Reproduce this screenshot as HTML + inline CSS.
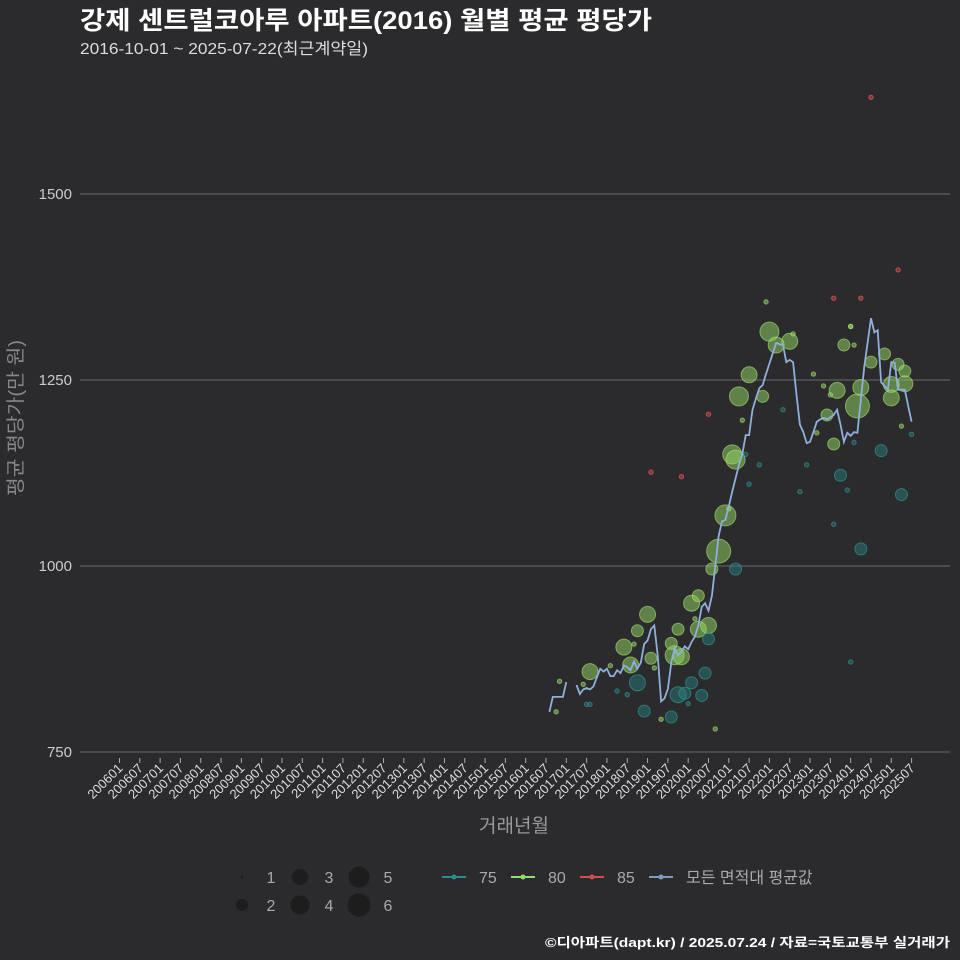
<!DOCTYPE html>
<html><head><meta charset="utf-8">
<style>
html,body{margin:0;padding:0;background:#2b2a2c;}
svg{display:block;font-family:"Liberation Sans","Noto Sans CJK KR",sans-serif;}
</style></head>
<body>
<svg id="chart" width="960" height="960" viewBox="0 0 960 960" xmlns="http://www.w3.org/2000/svg">
<rect width="960" height="960" fill="#2b2a2c"/>
<text x="80" y="29" fill="#ffffff" font-size="25" font-weight="bold" textLength="572" lengthAdjust="spacingAndGlyphs">강제 센트럴코아루 아파트(2016) 월별 평균 평당가</text>
<text x="80" y="54" fill="#dddddd" font-size="16" textLength="288" lengthAdjust="spacingAndGlyphs">2016-10-01 ~ 2025-07-22(최근계약일)</text>
<g id="grid"></g>
<g id="yaxis"></g>
<g id="xaxis"></g>
<g id="points"></g>
<g id="line"></g>
<text transform="translate(22,418) rotate(-90)" text-anchor="middle" fill="#888" font-size="19" textLength="156" lengthAdjust="spacingAndGlyphs">평균 평당가(만 원)</text>
<text x="514" y="832" text-anchor="middle" fill="#999" font-size="19">거래년월</text>
<g id="legend"></g>
<text x="950" y="947" text-anchor="end" fill="#ffffff" font-size="13" font-weight="bold" textLength="405" lengthAdjust="spacingAndGlyphs">©디아파트(dapt.kr) / 2025.07.24 / 자료=국토교통부 실거래가</text>
</svg>
<script>
// ---- data ----
const yTicks = [750, 1000, 1250, 1500];
const xTickLabels = ["200601","200607","200701","200707","200801","200807","200901","200907","201001","201007","201101","201107","201201","201207","201301","201307","201401","201407","201501","201507","201601","201607","201701","201707","201801","201807","201901","201907","202001","202007","202101","202107","202201","202207","202301","202307","202401","202407","202501","202507"];
// average line: monthly values starting 2016-08 (null = no trade)
const lineStart = "201608";
const lineValues = [804,824,824,824,824,844,null,null,840,828,834,836,834,838,850,862,858,862,852,852,860,856,866,864,860,872,862,870,895,900,915,920,880,818,822,835,870,890,880,885,892,888,898,905,920,945,950,940,960,1000,1040,1060,1062,1080,1100,1118,1136,1150,1176,1176,1210,1225,1239,1243,1258,1272,1286,1300,1298,1297,1274,1277,1274,1230,1190,1180,1165,1167,1180,1194,1197,1199,1197,1200,1203,1210,1190,1167,1179,1175,1180,1179,1223,1267,1300,1333,1314,1317,1247,1242,1237,1274,1273,1237,1237,1237,1215,1194];
// scatter: month offsets from lineStart, values, sizes (count), area
const ptMonth = [2,3,10,12,18,22,24,25,26,29,30,31,33,36,37,38,39,42,43,44,44,47,49,48,50,52,53,54,55,56,57,59,63,64,65,67,71,72,79,78,82,84,81,83,85,87,90,89,91,92,95,99,101,101,103,105,105,104,89,
 11,12,20,23,26,28,36,38,40,42,41,45,46,47,89,55,62,69,74,76,84,86,88,92,90,98,104,107,58,59,
 30,39,47,84,92,95,103];
const ptValue = [804,845,841,858,866,891,867,895,913,935,876,863,794,896,880,915,878,950,929,915,960,920,781,996,1020,1068,1077,1150,1143,1228,1196,1257,1228,1355,1315,1297,1302,1312,1179,1258,1203,1164,1242,1230,1236,1297,1297,1322,1215,1240,1274,1285,1244,1226,1271,1262,1245,1188,1322,
 814,814,832,827,843,805,797,827,829,843,815,826,856,902,871,996,1136,1210,1100,1136,1056,1122,1102,1023,1166,1155,1096,1177,1150,1110,
 1126,1120,1204,1360,1360,1630,1398];
const ptSize = [1,1,1,3,1,3,3,1,2,3,2,1,1,2,4,2,3,3,1,3,2,3,1,2,6,5,1,4,4,4,1,3,2,1,4,3,3,1,1,1,2,2,1,1,3,2,1,1,6,3,2,2,3,3,2,2,3,1,1,
 1,1,1,1,3,2,2,3,2,2,1,2,2,2,1,2,1,1,1,1,1,2,1,2,1,2,2,1,1,1,
 1,1,1,1,1,1,1];
const ptArea = [80,80,80,80,80,80,80,80,80,80,80,80,80,80,80,80,80,80,80,80,80,80,80,80,80,80,80,80,80,80,80,80,80,80,80,80,80,80,80,80,80,80,80,80,80,80,80,80,80,80,80,80,80,80,80,80,80,80,80,
 75,75,75,75,75,75,75,75,75,75,75,75,75,75,75,75,75,75,75,75,75,75,75,75,75,75,75,75,75,75,
 85,85,85,85,85,85,85];
const sizeLegend = [1,2,3,4,5,6];
const areaLegend = ["75","80","85","모든 면적대 평균값"];

// ---- scales ----
const NS = "http://www.w3.org/2000/svg";
const pxPerMonth = 3.385;
function monthIndex(yyyymm){const y=+yyyymm.slice(0,4), m=+yyyymm.slice(4,6);return (y-2006)*12+(m-1);}
function xScale(mi){return 119.5 + mi*pxPerMonth;}
function yScale(v){return 752 - (v-750)*186/250;}
const radii = {1:2.2,2:6,3:8,4:9.5,5:10.5,6:12};
const fills = {75:"rgba(40,130,130,0.45)",80:"rgba(150,215,100,0.5)",85:"rgba(205,70,70,0.55)"};
const strokes = {75:"rgba(50,160,155,0.6)",80:"rgba(170,230,120,0.6)",85:"rgba(225,90,90,0.7)"};
function mk(tag,attrs,parent){const e=document.createElementNS(NS,tag);for(const k in attrs)e.setAttribute(k,attrs[k]);parent.appendChild(e);return e;}

const grid=document.getElementById('grid'), yaxis=document.getElementById('yaxis');
yTicks.forEach(v=>{
  const l=mk('line',{x1:80,x2:950,y1:yScale(v),y2:yScale(v),stroke:'#6a6a6a','stroke-width':1},grid);
  
  
  const t=mk('text',{x:72,y:yScale(v)+5,'text-anchor':'end',fill:'#cccccc','font-size':15},yaxis);
  t.textContent=v;
  
  
});
const xaxis=document.getElementById('xaxis');
xTickLabels.forEach(lab=>{
  const x=xScale(monthIndex(lab));
  const tk=mk('line',{x1:x,x2:x,y1:758,y2:763,stroke:'#aaa','stroke-width':1},xaxis);
  
  
  const t=mk('text',{transform:`translate(${x+4},${769}) rotate(-45)`,'text-anchor':'end',fill:'#dddddd','font-size':13},xaxis);
  t.textContent=lab;
  
  
});

const base=monthIndex(lineStart);
const pts=document.getElementById('points');
const order=ptMonth.map((_,i)=>i).sort((a,b)=>ptSize[b]-ptSize[a]);
order.forEach(i=>{
  const a=ptArea[i];
  const c=mk('circle',{cx:xScale(base+ptMonth[i]),cy:yScale(ptValue[i]),r:radii[ptSize[i]],fill:fills[a],stroke:strokes[a],'stroke-width':1},pts);
  
  
});

const lineG=document.getElementById('line');
let d='',pen=false;
lineValues.forEach((v,i)=>{
  if(v===null){pen=false;return;}
  d+=(pen?'L':'M')+xScale(base+i).toFixed(1)+','+yScale(v).toFixed(1);
  pen=true;
});
const p=mk('path',{d:d,fill:'none',stroke:'#8fb0dc','stroke-width':1.8},lineG);



// ---- legend ----
const lg=document.getElementById('legend');
const sizePos=[[242,877],[242,905],[300,877],[300,905],[359,877],[359,905]];
const legR={1:1.5,2:6,3:8,4:9.5,5:10.5,6:11.5};
sizeLegend.forEach((s,i)=>{
  const [cx,cy]=sizePos[i];
  const c=mk('circle',{cx:cx,cy:cy,r:legR[s],fill:'#1d1d1e'},lg);
  
  
  const t=mk('text',{x:cx+29,y:cy+6,'text-anchor':'middle',fill:'#aaa','font-size':16},lg);
  t.textContent=s;
  
  
});
const areaX=[442,511,580,649];
const areaCol=["#2a8c8a","#8fdc70","#d05050","#7f9cc0"];
areaLegend.forEach((lab,i)=>{
  const x=areaX[i];
  const g=mk('g',{},lg);
  
  
  mk('line',{x1:x,x2:x+24,y1:877,y2:877,stroke:areaCol[i],'stroke-width':2},g);
  mk('circle',{cx:x+12,cy:877,r:2.5,fill:areaCol[i]},g);
  const t=mk('text',{x:x+37,y:883,fill:'#aaa','font-size':16},g);
  t.textContent=lab;
});
</script>
</body></html>
